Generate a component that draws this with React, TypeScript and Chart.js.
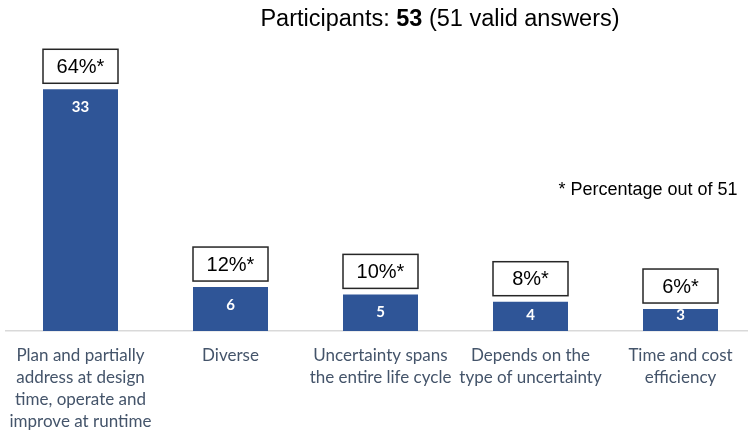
import React, { useEffect, useRef } from "react";
import { Chart, registerables } from "chart.js";

Chart.register(...registerables);

const categories: string[][] = [
  ["Plan and partially", "address at design", "time, operate and", "improve at runtime"],
  ["Diverse"],
  ["Uncertainty spans", "the entire life cycle"],
  ["Depends on the", "type of uncertainty"],
  ["Time and cost", "efficiency"],
];
const counts: number[] = [33, 6, 5, 4, 3];
const pctLabels: string[] = ["64%*", "12%*", "10%*", "8%*", "6%*"];
const titleParts: { text: string; bold: boolean }[] = [
  { text: "Participants: ", bold: false },
  { text: "53", bold: true },
  { text: " (51 valid answers)", bold: false },
];
const noteText = "* Percentage out of 51";

const overlayPlugin = {
  id: "overlay",
  afterDatasetsDraw(chart: any) {
    const ctx: CanvasRenderingContext2D = chart.ctx;
    const meta = chart.getDatasetMeta(0);
    ctx.save();
    meta.data.forEach((bar: any, i: number) => {
      const { x, y, base, width } = bar.getProps(["x", "y", "base", "width"], true);
      // value inside bar
      ctx.fillStyle = "#ffffff";
      ctx.font = "bold 15px Lato, 'Noto Sans', sans-serif";
      ctx.textAlign = "center";
      ctx.textBaseline = "middle";
      const ly = Math.min(y + 18, base - 16);
      ctx.fillText(String(counts[i]), x, ly);
      // percentage box
      const bh = 34;
      const by = y - 6 - bh;
      ctx.fillStyle = "#ffffff";
      ctx.fillRect(x - width / 2, by, width, bh);
      ctx.strokeStyle = "#262626";
      ctx.lineWidth = 1.5;
      ctx.strokeRect(x - width / 2, by, width, bh);
      ctx.fillStyle = "#000000";
      ctx.font = "20px 'Liberation Sans', Arial, sans-serif";
      ctx.fillText(pctLabels[i], x, by + bh / 2 + 1);
    });
    // title with mixed weight
    const tFont = (b: boolean) => (b ? "bold " : "") + "23.5px 'Liberation Sans', Arial, sans-serif";
    const parts = titleParts.map((p) => {
      ctx.font = tFont(p.bold);
      return { ...p, w: ctx.measureText(p.text).width };
    });
    const total = parts.reduce((s, p) => s + p.w, 0);
    let tx = 440 - total / 2;
    ctx.textAlign = "left";
    ctx.textBaseline = "alphabetic";
    ctx.fillStyle = "#000000";
    parts.forEach((p) => {
      ctx.font = tFont(p.bold);
      ctx.fillText(p.text, tx, 26);
      tx += p.w;
    });
    // note
    ctx.font = "18px 'Liberation Sans', Arial, sans-serif";
    ctx.textAlign = "center";
    ctx.textBaseline = "middle";
    ctx.fillText(noteText, 648, 190);
    ctx.restore();
  },
};

export default function App() {
  const ref = useRef<HTMLCanvasElement | null>(null);
  useEffect(() => {
    if (!ref.current) return;
    const chart = new Chart(ref.current, {
      type: "bar",
      data: {
        labels: categories,
        datasets: [
          {
            data: counts,
            backgroundColor: "#2F5597",
            barPercentage: 0.5,
            categoryPercentage: 1,
          },
        ],
      },
      options: {
        responsive: false,
        animation: false,
        layout: { padding: { left: 5.5, right: 4.5, top: 38, bottom: 0 } },
        plugins: { legend: { display: false }, tooltip: { enabled: false }, title: { display: false } },
        scales: {
          x: {
            grid: { display: false, drawTicks: false },
            border: { display: true, color: "#D9D9D9", width: 1.5 },
            ticks: {
              color: "#44546A",
              padding: 14,
              maxRotation: 0,
              autoSkip: false,
              font: { family: "Lato, 'Noto Sans', sans-serif", size: 17, lineHeight: 22 / 17 },
            },
            afterFit: (scale: any) => {
              scale.height = 102;
              scale.paddingLeft = 0;
              scale.paddingRight = 0;
            },
          },
          y: {
            display: false,
            min: 0,
            max: 40,
          },
        },
      },
      plugins: [overlayPlugin],
    });
    return () => chart.destroy();
  }, []);
  return (
    <div style={{ position: "fixed", left: 0, top: 0, width: 748, height: 433, overflow: "hidden", background: "#fff" }}>
      <canvas ref={ref} width={760} height={433} style={{ width: 760, height: 433, display: "block" }} />
    </div>
  );
}
